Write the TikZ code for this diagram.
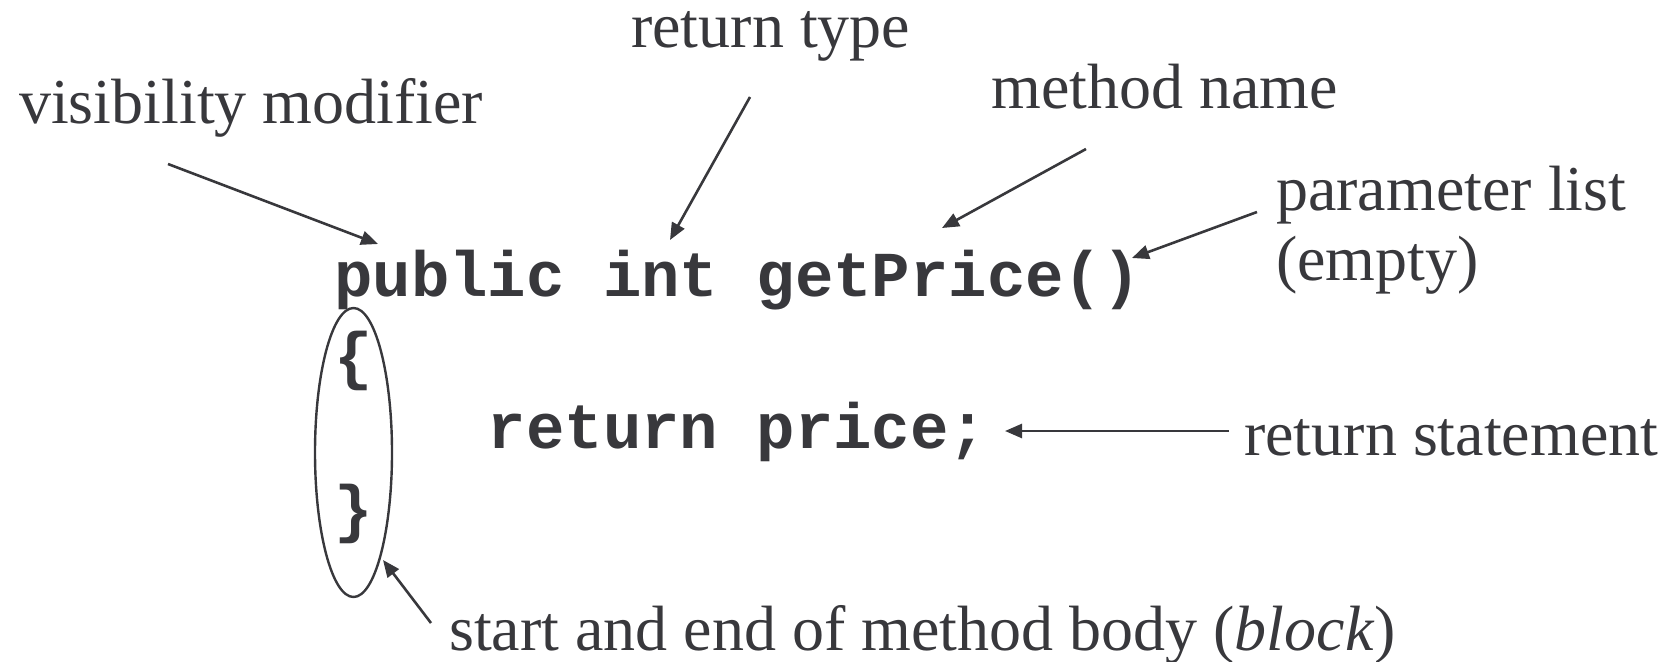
\documentclass[tikz,border=0pt]{standalone}
\usepackage{fontspec}
\setmainfont{Liberation Serif}
\setmonofont{Liberation Mono}
\usetikzlibrary{arrows.meta,shapes.geometric}
\definecolor{ink}{RGB}{56,56,60}
\begin{document}
\begin{tikzpicture}[x=1pt, y=-1pt,
  lbl/.style={anchor=base west, inner sep=0pt, text=ink, font=\fontsize{64}{70}\selectfont},
  code/.style={anchor=base west, inner sep=0pt, text=ink, font=\fontsize{64}{70}\selectfont\ttfamily\bfseries},
  arr/.style={draw=ink, line width=2.6pt, -{Triangle[length=17pt,width=14pt]}}]
\useasboundingbox (0,0) rectangle (1675,661);
% code
\node[code] (sig) at (334,296) {public int getPrice()};
\node[code] (open) at (334,377) {\{};
\node[code] (ret) at (487.6,448) {return price;};
\node[code] (close) at (334,530) {\}};
\node[draw=ink, line width=2.4pt, ellipse, minimum width=77, minimum height=289, inner sep=0pt] (body) at (353.5,452.5) {};
% labels
\node[lbl] (vis) at (19,123) {visibility modifier};
\node[lbl] (rtype) at (631,48) {return type};
\node[lbl] (mname) at (991,108) {method name};
\node[lbl] (plist) at (1276,210) {parameter list};
\node[lbl] (pempty) at (1276,280) {(empty)};
\node[lbl] (rstmt) at (1244,455) {return statement};
\node[lbl] (blk) at (449,650) {start and end of method body (\textit{block})};
% arrow ends
\coordinate (visT) at (168,164);   \coordinate (visH) at (378,244);
\coordinate (rtypeT) at (750,97);  \coordinate (rtypeH) at (670,240);
\coordinate (mnameT) at (1086,149); \coordinate (mnameH) at (942,228);
\coordinate (plistT) at (1257,212); \coordinate (plistH) at (1132,258);
\coordinate (rstmtT) at (1229,431); \coordinate (rstmtH) at (1005,431);
\coordinate (blkT) at (431,623);   \coordinate (blkH) at (383,560);
\draw[arr] (visT) -- (visH);
\draw[arr] (rtypeT) -- (rtypeH);
\draw[arr] (mnameT) -- (mnameH);
\draw[arr] (plistT) -- (plistH);
\draw[arr] (rstmtT) -- (rstmtH);
\draw[arr] (blkT) -- (blkH);
\end{tikzpicture}
\end{document}
